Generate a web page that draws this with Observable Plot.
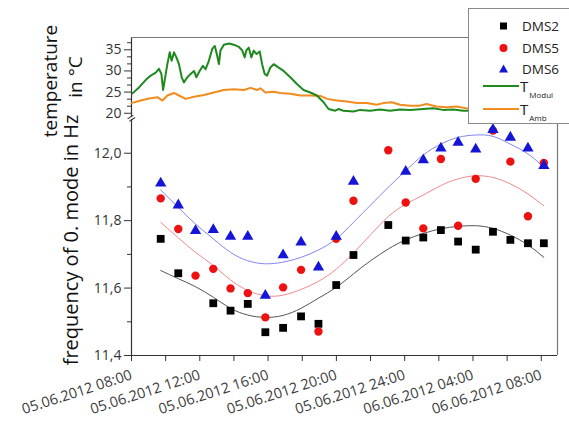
<!DOCTYPE html>
<html><head><meta charset="utf-8">
<script src="https://cdn.jsdelivr.net/npm/d3@7"></script>
<script src="https://cdn.jsdelivr.net/npm/@observablehq/plot@0.6"></script>
<style>
body{margin:0;background:#fff;font-family:"Open Sans",sans-serif;}
#wrap{position:relative;width:569px;height:421px;overflow:hidden;background:#fff;}
#wrap svg{position:absolute;left:0;top:0;}
.yt{position:absolute;width:320px;height:26px;line-height:26px;text-align:center;transform:rotate(-90deg);transform-origin:50% 50%;white-space:nowrap;font-size:20px;color:#111;}
#legend{position:absolute;left:468px;top:8px;width:120px;height:114px;border:1px solid #8a8a8a;background:#fff;}
.li{position:absolute;left:0;height:18px;width:120px;font-size:13.5px;color:#222;}
.li svg{position:absolute;left:0;top:0;}
.li span{position:absolute;left:53px;top:0;line-height:18px;}
.li span.T{font-size:15px;left:51px;line-height:16px;top:1px;}
.li sub{font-size:8px;vertical-align:-6px;margin-left:1px;line-height:8px;}
</style>
</head><body>
<div id="wrap"></div>
<script>
// ---------- data ----------
// time in hours after 05.06.2012 08:00
const ptHours = [1.71, 2.74, 3.75, 4.79, 5.80, 6.81, 7.84, 8.88, 9.93, 10.95, 11.99, 13.0, 14.0, 15.04, 16.06, 17.09, 18.12, 19.13, 20.16, 21.17, 22.19, 23.22, 24.15];
const dms2 = [11.746, 11.644, null, 11.555, 11.533, 11.553, 11.469, 11.482, 11.516, 11.494, 11.609, 11.698, null, 11.787, 11.741, 11.750, 11.772, 11.738, 11.714, 11.767, 11.743, 11.733, 11.733];
const dms5 = [11.866, 11.775, 11.637, 11.657, 11.599, 11.585, 11.513, 11.602, 11.654, 11.471, 11.746, 11.859, null, 12.009, 11.854, 11.777, 11.983, 11.785, 11.924, 12.067, 11.975, 11.813, 11.971];
const dms6 = [11.911, 11.846, 11.770, 11.773, 11.753, 11.753, 11.578, 11.698, 11.736, 11.662, 11.753, 11.916, null, null, 11.946, 11.980, 12.015, 12.032, 12.012, 12.070, 12.047, 12.015, 11.963];
const fit2 = [11.652, 11.628, 11.604, 11.573, 11.540, 11.520, 11.513, 11.519, 11.540, 11.570, 11.602, 11.642, 11.681, 11.716, 11.743, 11.762, 11.776, 11.783, 11.785, 11.777, 11.757, 11.728, 11.691];
const fit5 = [11.795, 11.749, 11.706, 11.667, 11.624, 11.593, 11.577, 11.579, 11.596, 11.620, 11.656, 11.704, 11.758, 11.812, 11.849, 11.876, 11.904, 11.924, 11.933, 11.928, 11.909, 11.879, 11.844];
const fit6 = [11.891, 11.839, 11.790, 11.746, 11.706, 11.681, 11.672, 11.677, 11.691, 11.713, 11.746, 11.795, 11.846, 11.899, 11.948, 11.995, 12.027, 12.047, 12.054, 12.050, 12.027, 11.998, 11.958];

const tModulHours = [0.06, 0.44, 0.84, 1.13, 1.42, 1.61, 1.75, 1.85, 1.94, 2.10, 2.24, 2.35, 2.49, 2.63, 2.78, 2.94, 3.07, 3.27, 3.46, 3.66, 3.80, 3.99, 4.18, 4.34, 4.53, 4.73, 4.88, 5.02, 5.12, 5.21, 5.41, 5.70, 5.99, 6.28, 6.48, 6.63, 6.73, 6.87, 7.02, 7.16, 7.32, 7.51, 7.65, 7.80, 7.94, 8.13, 8.33, 8.62, 8.91, 9.30, 9.69, 10.08, 10.47, 10.86, 11.25, 11.54, 11.93, 12.12, 12.41, 13.0, 13.39, 13.97, 14.56, 15.14, 15.72, 16.31, 17.09, 17.67, 18.25, 18.84, 19.42, 19.81];
const tModul = [24.7, 26.1, 27.9, 28.9, 29.6, 30.5, 29.3, 25.5, 27.7, 31.6, 34.4, 32.4, 34.4, 33.2, 31.6, 28.5, 27.3, 28.5, 29.3, 30.0, 28.5, 30.0, 31.2, 30.4, 32.4, 35.2, 35.9, 33.6, 31.6, 34.8, 36.2, 36.5, 36.2, 35.7, 34.9, 33.2, 34.9, 35.5, 33.2, 34.8, 34.0, 34.6, 31.6, 29.3, 28.9, 30.8, 31.6, 30.8, 30.0, 28.5, 26.9, 25.5, 24.9, 24.2, 22.6, 21.0, 20.6, 21.0, 20.6, 20.4, 20.8, 20.6, 20.9, 20.6, 20.9, 20.8, 21.0, 21.2, 20.8, 20.9, 20.6, 20.6];
const tAmbHours = [0, 0.54, 1.03, 1.52, 1.81, 2.10, 2.49, 2.78, 3.17, 3.66, 4.24, 4.82, 5.41, 5.99, 6.58, 6.97, 7.36, 7.55, 7.84, 8.33, 8.72, 9.31, 9.89, 10.47, 11.06, 11.45, 12.03, 12.61, 13.20, 13.78, 14.36, 14.75, 15.24, 15.73, 16.31, 16.89, 17.28, 17.87, 18.45, 19.04, 19.71];
const tAmb = [22.4, 23.0, 23.5, 23.8, 23.0, 24.2, 24.8, 24.2, 23.4, 23.9, 24.3, 24.9, 25.5, 25.7, 25.5, 26.0, 25.5, 25.9, 24.9, 25.1, 24.8, 24.6, 24.2, 24.2, 24.1, 23.4, 23.0, 22.8, 22.4, 22.4, 22.0, 22.4, 22.6, 22.0, 21.8, 21.8, 22.2, 21.6, 21.4, 21.6, 21.1];

const xTickHours = [0, 4, 8, 12, 16, 20, 24];
const xTickLabels = ["05.06.2012 08:00", "05.06.2012 12:00", "05.06.2012 16:00", "05.06.2012 20:00", "05.06.2012 24:00", "06.06.2012 04:00", "06.06.2012 08:00"];
const xMinorHours = [2, 6, 10, 14, 18, 22];
const tempTicks = [20, 25, 30, 35];
const tempTickLabels = ["20", "25", "30", "35"];
const tempMinor = [21.667, 23.333, 26.667, 28.333, 31.667, 33.333, 36.667];
const freqTicks = [11.4, 11.6, 11.8, 12.0];
const freqTickLabels = ["11,4", "11,6", "11,8", "12,0"];
const freqMinor = [11.5, 11.7, 11.9];
const xHoursDomain = [0, 24.95];
const tempDomain = [19, 37.9];
const freqDomain = [11.4, 12.1];

// ---------- build ----------
const base = new Date(2012, 5, 5, 8, 0).getTime();
const toDate = h => new Date(base + h * 3600e3);
const xDomain = xHoursDomain.map(toDate);
const lab = (ticks, labels) => d => labels[ticks.findIndex(v => Math.abs(+v - +d) < 1e-6)] ?? "";
const xMajorDates = xTickHours.map(toDate);

const pts = (vals) => ptHours.map((h, i) => ({t: toDate(h), v: vals[i]})).filter(d => d.v != null);
const fits = (vals) => ptHours.map((h, i) => ({t: toDate(h), v: vals[i]}));
const modul = tModulHours.map((h, i) => ({t: toDate(h), v: tModul[i]}));
const amb = tAmbHours.map((h, i) => ({t: toDate(h), v: tAmb[i]}));

const FONT = "'Open Sans', sans-serif";
const axisCol = "#333";

const topChart = Plot.plot({
  width: 569, height: 125,
  marginLeft: 131, marginRight: 12, marginTop: 37, marginBottom: 8,
  style: {background: "transparent", overflow: "visible", fontFamily: FONT, color: axisCol},
  x: {type: "time", domain: xDomain, axis: null},
  y: {domain: tempDomain, axis: null, label: null},
  marks: [
    Plot.axisY({ticks: tempTicks, tickSize: 7, tickPadding: 3, fontSize: 14, tickFormat: lab(tempTicks, tempTickLabels), label: null}),
    Plot.axisY({ticks: tempMinor, tickSize: 4, tickFormat: () => "", label: null}),
    Plot.ruleX([xDomain[0]], {stroke: axisCol, strokeWidth: 1.2}),
    Plot.ruleY([tempDomain[1]], {stroke: "#777", strokeWidth: 1.2}),
    Plot.ruleX([xDomain[1]], {stroke: "#777", strokeWidth: 1.2}),
    Plot.line(amb, {x: "t", y: "v", stroke: "#f28c1e", strokeWidth: 2}),
    Plot.line(modul, {x: "t", y: "v", stroke: "#1e8a1e", strokeWidth: 2})
  ]
});

const botChart = Plot.plot({
  width: 569, height: 421,
  marginLeft: 131, marginRight: 12, marginTop: 119, marginBottom: 66,
  style: {background: "transparent", overflow: "visible", fontFamily: FONT, color: axisCol},
  x: {type: "time", domain: xDomain, label: null},
  y: {domain: freqDomain, label: null},
  marks: [
    Plot.axisY({ticks: freqTicks, tickSize: 7, tickPadding: 3, fontSize: 14, tickFormat: lab(freqTicks, freqTickLabels), label: null}),
    Plot.axisY({ticks: freqMinor, tickSize: 4, tickFormat: () => "", label: null}),
    Plot.axisX({ticks: xMajorDates, tickSize: 6, tickPadding: 13, tickRotate: -18, fontSize: 14.5, fill: "#3a3a3a", tickFormat: lab(xMajorDates, xTickLabels), label: null}),
    Plot.axisX({ticks: xMinorHours.map(toDate), tickSize: 6, tickFormat: () => "", label: null}),
    Plot.ruleX([xDomain[0]], {stroke: axisCol, strokeWidth: 1.2}),
    Plot.ruleY([freqDomain[0]], {stroke: axisCol, strokeWidth: 1.2}),
    Plot.ruleX([xDomain[1]], {stroke: "#777", strokeWidth: 1.2}),
    Plot.text(["="], {x: xDomain[0], y: freqDomain[1], dy: -1, rotate: -35, fontSize: 15, fill: axisCol}),
    Plot.line(fits(fit2), {x: "t", y: "v", stroke: "#555", strokeWidth: 1, curve: "natural"}),
    Plot.line(fits(fit5), {x: "t", y: "v", stroke: "#f08a8a", strokeWidth: 1, curve: "natural"}),
    Plot.line(fits(fit6), {x: "t", y: "v", stroke: "#8585ee", strokeWidth: 1, curve: "natural"}),
    Plot.dot(pts(dms2), {x: "t", y: "v", symbol: "square", r: 4.4, fill: "#000"}),
    Plot.dot(pts(dms5), {x: "t", y: "v", symbol: "circle", r: 4.2, fill: "#ee1111"}),
    Plot.dot(pts(dms6), {x: "t", y: "v", symbol: "triangle", r: 4.2, fill: "#1515d8"})
  ]
});

const wrap = document.getElementById("wrap");
wrap.appendChild(botChart);
wrap.appendChild(topChart);

function ytitle(html, cx, cy, size) {
  const d = document.createElement("div");
  d.className = "yt";
  d.innerHTML = html;
  d.style.left = (cx - 160) + "px";
  d.style.top = (cy - 13) + "px";
  d.style.fontSize = size + "px";
  wrap.appendChild(d);
}
ytitle("temperature", 50, 81, 19);
ytitle("in °C", 75, 77, 19);
ytitle("frequency of 0. mode in Hz", 71, 240, 20);

// legend
const legend = document.createElement("div");
legend.id = "legend";
const items = [
  {y: 8, sym: "square", color: "#000", label: "DMS2"},
  {y: 30, sym: "circle", color: "#ee1111", label: "DMS5"},
  {y: 51, sym: "triangle", color: "#1515d8", label: "DMS6"},
  {y: 68, line: "#1e8a1e", label: "T<sub>Modul</sub>"},
  {y: 91, line: "#f28c1e", label: "T<sub>Amb</sub>"}
];
for (const it of items) {
  const row = document.createElement("div");
  row.className = "li";
  row.style.top = it.y + "px";
  let svg = '<svg width="52" height="18">';
  if (it.sym === "square") svg += `<rect x="31" y="5.5" width="7" height="7" fill="${it.color}"/>`;
  if (it.sym === "circle") svg += `<circle cx="34.5" cy="9" r="4" fill="${it.color}"/>`;
  if (it.sym === "triangle") svg += `<path d="M34.5,4.5 L39,12.5 L30,12.5 Z" fill="${it.color}"/>`;
  if (it.line) svg += `<line x1="14" x2="50" y1="9" y2="9" stroke="${it.line}" stroke-width="2"/>`;
  svg += "</svg>";
  row.innerHTML = svg + `<span class="${it.line ? "T" : ""}">${it.label}</span>`;
  legend.appendChild(row);
}
wrap.appendChild(legend);
</script>
</body></html>
